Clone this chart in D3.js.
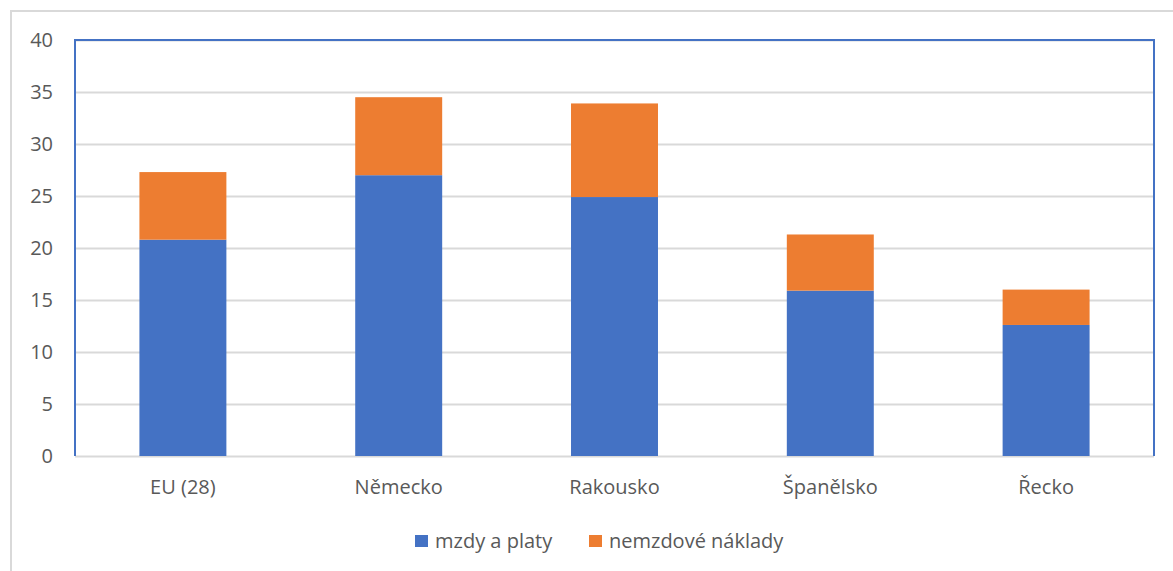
<!DOCTYPE html>
<html><head><meta charset="utf-8">
<script src="https://cdn.jsdelivr.net/npm/d3@7"></script>
<style>body{margin:0;background:#fff}svg{display:block}text{font-family:"Open Sans",sans-serif;fill:#595959}</style>
</head><body><svg id="c" width="1173" height="571"></svg>
<script>
const categories = ["EU (28)", "Německo", "Rakousko", "Španělsko", "Řecko"];
const mzdy = [20.8, 27.0, 24.9, 15.9, 12.6];
const nemzdove = [6.5, 7.5, 9.0, 5.4, 3.4];
const seriesNames = ["mzdy a platy", "nemzdové náklady"];
const colors = ["#4472C4", "#ED7D31"];
const yTicks = [0, 5, 10, 15, 20, 25, 30, 35, 40];

const svg = d3.select("#c");
const L = 75, R = 1154, T = 40, B = 456;
svg.append("rect").attr("x", 11).attr("y", 11).attr("width", 1200).attr("height", 600)
  .attr("fill", "none").attr("stroke", "#D9D9D9").attr("stroke-width", 2);

const x = d3.scaleBand().domain(categories).range([L, R]).paddingInner(0.597).paddingOuter(0.2985);
const y = d3.scaleLinear().domain([0, 40]).range([B, T]);

const yAxis = d3.axisLeft(y).tickValues(yTicks).tickSize(-(R - L)).tickFormat(d3.format("d")).tickPadding(22);
const gy = svg.append("g").attr("transform", `translate(${L},0)`).call(yAxis);
gy.select(".domain").remove();
gy.selectAll("line").attr("stroke", "#D9D9D9").attr("stroke-width", 2);
gy.selectAll("text").style("font-size", "20px").attr("fill", "#595959");

const table = categories.map((c, i) => ({cat: c, mzdy: mzdy[i], nemzdove: nemzdove[i]}));
const stack = d3.stack().keys(["mzdy", "nemzdove"])(table);
svg.append("g").selectAll("g").data(stack).join("g")
  .attr("fill", (d, i) => colors[i])
  .selectAll("rect").data(d => d).join("rect")
  .attr("x", d => x(d.data.cat)).attr("width", x.bandwidth())
  .attr("y", d => y(d[1])).attr("height", d => y(d[0]) - y(d[1]));

svg.append("path").attr("d", `M${L},${B}V${T}H${R}V${B}`).attr("fill", "none")
  .attr("stroke", "#4472C4").attr("stroke-width", 2);

const xAxis = d3.axisBottom(x).tickSize(0).tickPadding(24);
const gx = svg.append("g").attr("transform", `translate(0,${B})`).call(xAxis);
gx.select(".domain").remove();
gx.selectAll("text").style("font-size", "20px").attr("fill", "#595959");

const legendX = [415, 589];
seriesNames.forEach((n, i) => {
  svg.append("rect").attr("x", legendX[i]).attr("y", 535).attr("width", 13).attr("height", 12).attr("fill", colors[i]);
  svg.append("text").attr("x", legendX[i] + 20).attr("y", 541).attr("dy", "0.35em")
    .style("font-size", "20px").text(n);
});
</script></body></html>
